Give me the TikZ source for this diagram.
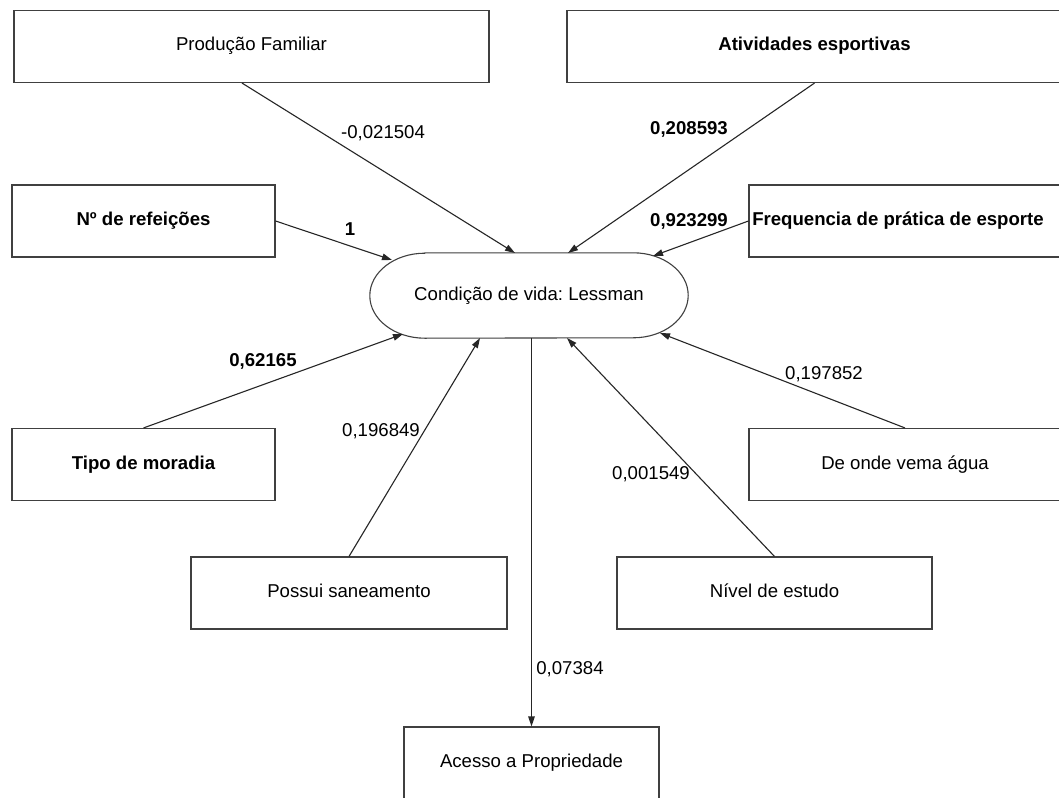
\documentclass[tikz,border=0pt]{standalone}
\usepackage{fontspec}
\setmainfont{Liberation Sans}
\usetikzlibrary{arrows.meta,calc}
\frenchspacing
\begin{document}
\begin{tikzpicture}[x=1pt,y=-1pt,
  font=\fontsize{18.6}{22}\selectfont\frenchspacing,
  box/.style={draw=black!75, line width=1.1pt, rectangle, inner sep=0pt, text height=13pt, text depth=4pt, minimum height=72pt},
  outline/.style={draw=black!75, line width=1.1pt},
  lab/.style={inner sep=0pt, text height=13pt, text depth=0pt},
  arr/.style={draw=black!85, line width=1.1pt, -{Triangle[length=10pt,width=6.5pt]}},
]
\clip (0,0) rectangle (1059,797);
\fill[white] (0,0) rectangle (1059,797);

% boxes
\node[box, minimum width=475pt] (prod) at (251.5,46.5) {Produção Familiar};
\node[box, minimum width=495pt] (ativ) at (814.5,46.5) {\bfseries Atividades esportivas};
\node[box, minimum width=263pt] (nref) at (143.5,221) {\bfseries Nº de refeições};
\node[box, minimum width=312pt] (freq) at (905,221) {\hspace*{-14pt}\bfseries Frequencia de prática de esporte};
\node[box, minimum width=263pt] (tipo) at (143.5,464.5) {\bfseries Tipo de moradia};
\node[box, minimum width=312pt] (onde) at (905,464.5) {De onde vema água};
\node[box, minimum width=316pt] (san) at (349,593) {Possui saneamento};
\node[box, minimum width=315pt] (niv) at (774.5,593) {Nível de estudo};
\node[box, minimum width=255pt] (aces) at (531.5,763) {Acesso a Propriedade};

% central terminal shape
\node[minimum width=318pt, minimum height=85pt, inner sep=0pt, text height=13pt, text depth=4pt] (c) at (529,295.5) {Condição de vida: Lessman};
\draw[outline] ([xshift=55pt]c.north west) -- ([xshift=-55pt]c.north east)
  arc[start angle=90,end angle=-90,x radius=55pt,y radius=42.5pt]
  -- ([xshift=55pt]c.south west)
  arc[start angle=270,end angle=90,x radius=55pt,y radius=42.5pt] -- cycle;

% border points of the central shape
\coordinate (e1) at ($(c.center)+(-14,-42.5)$);
\coordinate (e2) at ($(c.center)+(39,-42.5)$);
\coordinate (e3) at ($(c.center)+(-137,-35.5)$);
\coordinate (e4) at ($(c.center)+(124,-39.5)$);
\coordinate (e5) at ($(c.center)+(-126,38.5)$);
\coordinate (e6) at ($(c.center)+(-49,42.5)$);
\coordinate (e7) at ($(c.center)+(38,42.5)$);
\coordinate (e8) at ($(c.center)+(131,37.5)$);

% connectors
\draw[arr] ($(prod.south)+(-9.5,0)$) -- (e1);
\draw[arr] (ativ.south) -- (e2);
\draw[arr] (nref.east) -- (e3);
\draw[arr] (freq.west) -- (e4);
\draw[arr] (tipo.north) -- (e5);
\draw[arr] (san.north) -- (e6);
\draw[arr] (niv.north) -- (e7);
\draw[arr] (onde.north) -- (e8);
\draw[arr] (c.south -| aces.north) -- (aces.north);

% labels
\node[lab] (l1) at (383,132) {-0,021504};
\node[lab] (l2) at (689,128) {\bfseries 0,208593};
\node[lab] (l3) at (350,229) {\bfseries 1};
\node[lab] (l4) at (689,220) {\bfseries 0,923299};
\node[lab] (l5) at (263,360) {\bfseries 0,62165};
\node[lab] (l6) at (381,430) {0,196849};
\node[lab] (l7) at (824,373) {0,197852};
\node[lab] (l8) at (651,473) {0,001549};
\node[lab] (l9) at (570,668) {0,07384};
\end{tikzpicture}
\end{document}
